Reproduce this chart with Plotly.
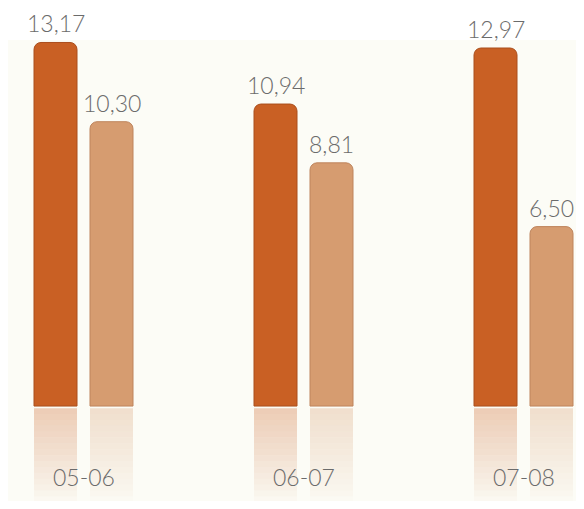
import plotly.graph_objects as go

# Données
periodes = ["05-06", "06-07", "07-08"]
serie_a = [13.17, 10.94, 12.97]
serie_b = [10.30, 8.81, 6.50]

couleur_a = "rgb(201, 96, 36)"
couleur_b = "rgb(214, 156, 112)"
rgb_a = (201, 96, 36)
rgb_b = (214, 156, 112)


def fmt(v):
    return f"{v:.2f}".replace(".", ",")


fig = go.Figure()

# Barres principales
fig.add_trace(go.Bar(
    x=periodes, y=serie_a, offsetgroup="a",
    marker=dict(color=couleur_a, line=dict(color="rgb(170, 78, 28)", width=1), cornerradius=7),
    hoverinfo="skip", showlegend=False,
))
fig.add_trace(go.Bar(
    x=periodes, y=serie_b, offsetgroup="b",
    marker=dict(color=couleur_b, line=dict(color="rgb(190, 132, 92)", width=1), cornerradius=7),
    hoverinfo="skip", showlegend=False,
))

# Reflets sous la ligne de base (dégradé en plusieurs tranches)
n_tranches = 16
hauteur = 3.4 / n_tranches
for i in range(n_tranches):
    alpha = 0.30 * (1 - i / n_tranches) ** 0.9
    for groupe, rgb in (("a", rgb_a), ("b", rgb_b)):
        fig.add_trace(go.Bar(
            x=periodes, y=[-hauteur] * len(periodes), base=-0.08 - i * hauteur,
            offsetgroup=groupe,
            marker=dict(color=f"rgba({rgb[0]},{rgb[1]},{rgb[2]},{alpha:.3f})", line=dict(width=0)),
            hoverinfo="skip", showlegend=False,
        ))

police = dict(family="Lato", size=23, color="#6b6b6b", weight=300)

# Étiquettes de valeurs
for serie, decalage in ((serie_a, -28), (serie_b, 28)):
    for p, v in zip(periodes, serie):
        fig.add_annotation(
            x=p, y=v, text=fmt(v), showarrow=False, xshift=decalage,
            yanchor="bottom", yshift=3, font=police,
        )

# Étiquettes de catégories
for p in periodes:
    fig.add_annotation(x=p, y=-2.57, text=p, showarrow=False, font=police)

fig.update_layout(
    width=568, height=493,
    margin=dict(l=0, r=0, t=32, b=0),
    barmode="group", bargap=0.491, bargroupgap=0.232,
    paper_bgcolor="white", plot_bgcolor="#fcfcf6",
    xaxis=dict(type="category", range=[-0.3432, 2.2386], visible=False, fixedrange=True),
    yaxis=dict(range=[-3.44, 13.26], visible=False, fixedrange=True),
)

fig.write_html("out.html")
